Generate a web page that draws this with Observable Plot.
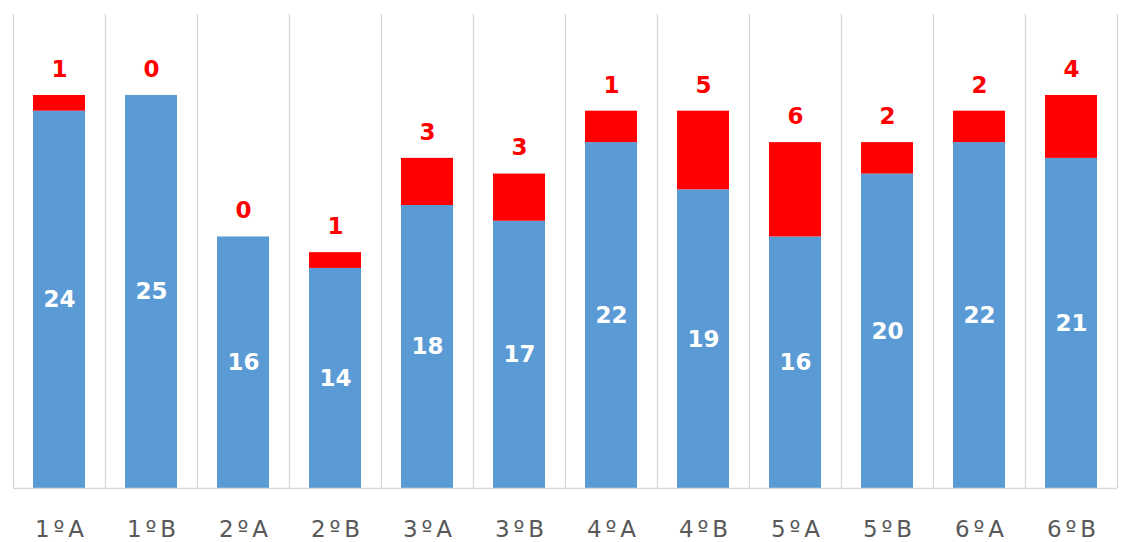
<!DOCTYPE html>
<html>
<head>
<meta charset="utf-8">
<script src="https://cdn.jsdelivr.net/npm/d3@7"></script>
<script src="https://cdn.jsdelivr.net/npm/@observablehq/plot@0.6"></script>
<style>
  html, body { margin: 0; padding: 0; background: #fff; }
  #chart svg { display: block; }
  svg [aria-label="x-axis tick label"] text { letter-spacing: 4px; }
</style>
</head>
<body>
<div id="chart"></div>
<script>
const categories = ["1ºA","1ºB","2ºA","2ºB","3ºA","3ºB","4ºA","4ºB","5ºA","5ºB","6ºA","6ºB"];
const blueValues = [24,25,16,14,18,17,22,19,16,20,22,21];
// red segment heights as drawn in the reference
const redValues  = [1,0,0,1,3,3,2,5,6,2,2,4];
// red labels as printed in the reference
const redLabels  = ["1","0","0","1","3","3","1","5","6","2","2","4"];
const yMax = 30.15;

const rows = [];
categories.forEach((c, i) => {
  rows.push({cat: c, serie: "Serie 1", value: blueValues[i]});
  rows.push({cat: c, serie: "Serie 2", value: redValues[i]});
});
const totals = categories.map((c, i) => ({cat: c, blue: blueValues[i], red: redLabels[i], total: blueValues[i] + redValues[i]}));

const W = 1132, H = 542;
const chart = Plot.plot({
  width: W,
  height: H,
  marginTop: 14,
  marginBottom: 54,
  marginLeft: 13,
  marginRight: 15,
  style: {fontFamily: "'DejaVu Sans', sans-serif", background: "#fff"},
  x: {domain: categories, paddingInner: 0.435, paddingOuter: 0.2175, label: null},
  y: {domain: [0, yMax], axis: null},
  color: {domain: ["Serie 1", "Serie 2"], range: ["#5B9BD5", "#FF0000"]},
  marks: [
    Plot.ruleX(categories, {x: d => d, y1: 0, y2: yMax, dx: -46, stroke: "#D9D9D9", strokeWidth: 1.3}),
    Plot.ruleX([categories[categories.length - 1]], {x: d => d, y1: 0, y2: yMax, dx: 46, stroke: "#D9D9D9", strokeWidth: 1.3}),
    Plot.barY(rows, Plot.stackY({x: "cat", y: "value", fill: "serie", order: ["Serie 1", "Serie 2"]})),
    Plot.ruleY([0], {stroke: "#D9D9D9", strokeWidth: 1.3}),
    Plot.text(totals, {x: "cat", y: d => d.blue / 2, text: d => String(d.blue), fill: "#fff", fontWeight: "bold", fontSize: 23}),
    Plot.text(totals, {x: "cat", y: "total", text: "red", fill: "#FF0000", fontWeight: "bold", fontSize: 23, dy: -26}),
    Plot.axisX({tickSize: 0, tickPadding: 32, fontSize: 23, color: "#595959", label: null, dx: 2})
  ]
});
document.getElementById("chart").appendChild(chart);
</script>
</body>
</html>
